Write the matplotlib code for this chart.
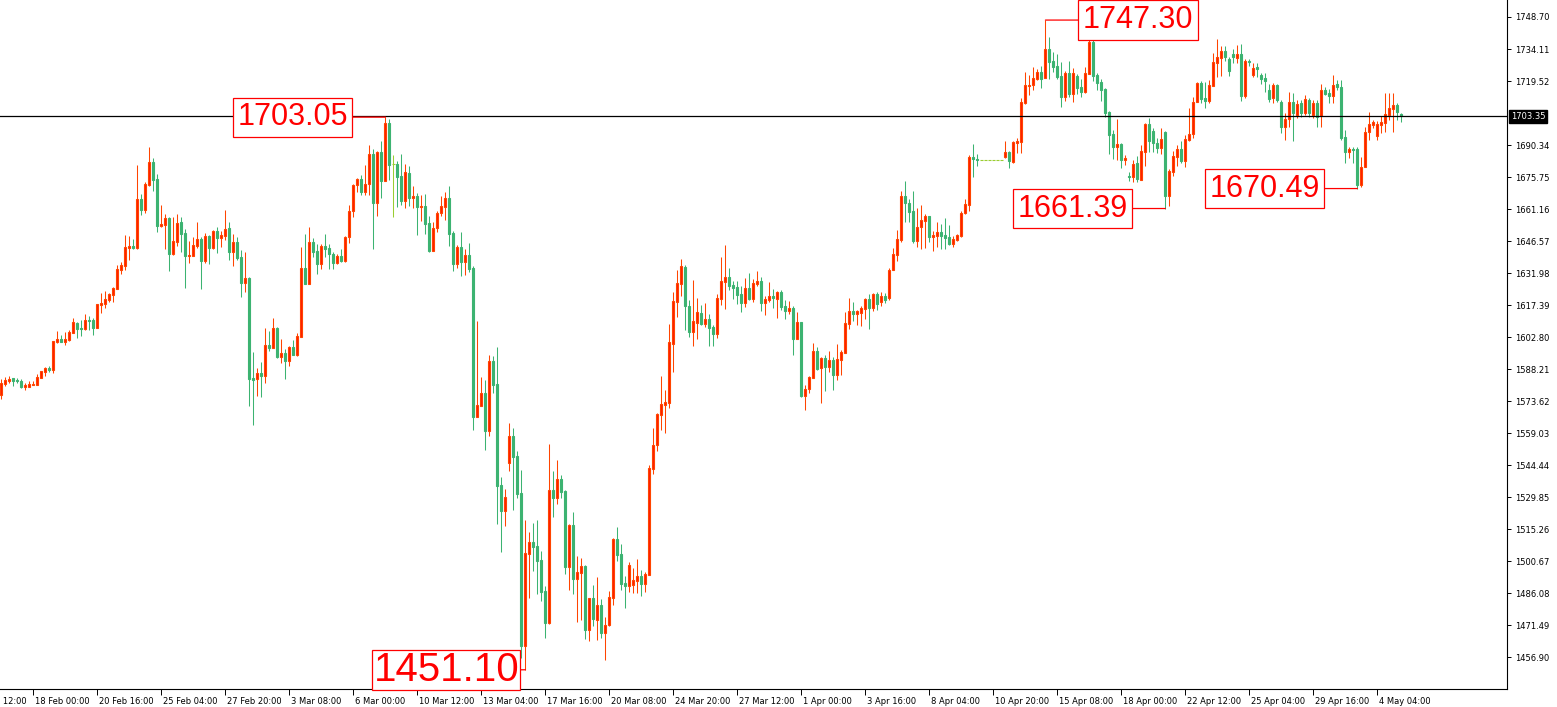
import matplotlib
matplotlib.use("Agg")
import matplotlib.pyplot as plt
import matplotlib.transforms as mtransforms
import numpy as np

# XAUUSD H4 candles (Feb - May 2020)
opens = [
    1576.4, 1581.4, 1582.8, 1584.1, 1583.2, 1582.8, 1580.0, 1580.0, 1580.9, 1580.9,
    1584.1, 1586.9, 1588.7, 1587.8, 1600.5, 1601.9, 1600.5, 1601.4, 1604.6, 1609.2,
    1606.9, 1606.5, 1610.6, 1610.6, 1606.9, 1617.4, 1617.9, 1619.7, 1622.0, 1624.7,
    1633.4, 1635.2, 1643.4, 1644.3, 1643.4, 1665.7, 1660.7, 1672.1, 1682.6, 1674.8,
    1653.4, 1653.9, 1657.1, 1640.6, 1646.1, 1655.2, 1650.2, 1639.7, 1639.7, 1644.3,
    1647.5, 1637.5, 1648.9, 1643.4, 1651.1, 1647.9, 1648.9, 1652.5, 1641.6, 1646.1,
    1639.3, 1627.4, 1629.7, 1584.1, 1583.7, 1586.4, 1585.0, 1599.2, 1597.8, 1606.9,
    1593.7, 1595.5, 1591.9, 1598.3, 1594.6, 1602.8, 1634.3, 1627.0, 1646.1, 1642.0,
    1636.1, 1644.3, 1643.4, 1640.6, 1636.5, 1639.7, 1637.5, 1648.4, 1660.2, 1672.1,
    1674.8, 1668.9, 1672.6, 1686.2, 1663.9, 1687.2, 1673.9, 1700.4, 1681.7, 1681.7,
    1676.2, 1664.8, 1677.6, 1666.2, 1667.1, 1662.1, 1662.5, 1654.8, 1642.0, 1652.5,
    1659.3, 1662.1, 1666.2, 1650.2, 1636.1, 1643.8, 1637.0, 1640.2, 1634.3, 1566.3,
    1571.4, 1577.3, 1560.0, 1591.9, 1581.4, 1535.3, 1523.5, 1545.4, 1557.7, 1548.6,
    1531.7, 1461.9, 1503.9, 1509.4, 1507.5, 1501.1, 1487.0, 1472.4, 1533.1, 1529.4,
    1538.1, 1532.6, 1498.0, 1517.1, 1492.5, 1495.2, 1498.4, 1469.2, 1483.8, 1473.8,
    1480.6, 1467.9, 1471.5, 1483.8, 1510.7, 1503.9, 1490.7, 1489.3, 1489.7, 1491.6,
    1493.9, 1490.2, 1494.3, 1542.6, 1553.6, 1567.3, 1571.8, 1572.7, 1599.6, 1618.8,
    1627.0, 1634.7, 1616.9, 1605.1, 1609.2, 1613.8, 1608.7, 1611.0, 1607.4, 1604.2,
    1620.1, 1627.9, 1630.2, 1626.5, 1625.6, 1622.4, 1618.3, 1625.2, 1620.1, 1627.0,
    1628.3, 1618.3, 1619.7, 1621.5, 1620.1, 1623.3, 1616.9, 1614.7, 1616.0, 1601.9,
    1609.6, 1575.9, 1579.1, 1584.1, 1596.4, 1588.7, 1593.2, 1589.1, 1592.3, 1585.5,
    1592.3, 1595.5, 1608.7, 1614.7, 1613.3, 1613.8, 1615.6, 1620.1, 1616.0, 1622.4,
    1618.8, 1621.5, 1620.6, 1633.4, 1640.2, 1647.0, 1667.1, 1663.9, 1660.2, 1646.6,
    1653.0, 1655.7, 1658.0, 1648.4, 1648.9, 1650.7, 1649.3, 1648.4, 1645.2, 1647.0,
    1648.9, 1659.3, 1663.0, 1684.9, 1684.0, 1683.5, 1683.5, 1683.5, 1683.5, 1683.5,
    1683.5, 1684.9, 1687.2, 1682.6, 1691.3, 1691.7, 1709.5, 1717.2, 1717.7, 1720.4,
    1723.6, 1720.9, 1734.1, 1728.6, 1726.4, 1721.8, 1712.2, 1723.2, 1713.6, 1721.8,
    1716.8, 1714.5, 1722.7, 1737.3, 1722.3, 1719.1, 1715.9, 1705.4, 1695.4, 1689.4,
    1690.8, 1683.5, 1676.2, 1675.8, 1682.1, 1674.4, 1687.2, 1699.9, 1696.7, 1691.3,
    1689.0, 1696.3, 1667.1, 1678.0, 1684.9, 1688.5, 1683.0, 1692.6, 1695.4, 1709.9,
    1718.6, 1711.8, 1710.4, 1717.2, 1727.7, 1730.0, 1733.2, 1729.5, 1731.8, 1730.0,
    1731.8, 1712.7, 1728.6, 1722.3, 1725.9, 1722.3, 1720.9, 1715.4, 1711.8, 1717.7,
    1709.9, 1698.5, 1702.2, 1709.9, 1704.0, 1709.5, 1704.9, 1710.9, 1704.0, 1709.5,
    1703.6, 1715.4, 1714.1, 1712.7, 1718.1, 1716.8, 1694.0, 1687.2, 1688.5, 1688.5,
    1672.1, 1680.3, 1696.3, 1699.5, 1694.4, 1699.5, 1700.4, 1704.0, 1706.8, 1708.6,
    1704.5,
]
highs = [
    1583.7, 1584.6, 1585.0, 1584.1, 1584.1, 1583.7, 1581.8, 1582.8, 1582.8, 1585.9,
    1587.3, 1589.1, 1589.6, 1601.0, 1605.5, 1603.7, 1605.1, 1606.0, 1611.5, 1609.6,
    1610.6, 1613.3, 1612.4, 1611.5, 1617.9, 1622.9, 1623.8, 1622.9, 1625.6, 1635.6,
    1637.0, 1649.3, 1648.9, 1647.5, 1681.2, 1668.0, 1673.5, 1689.4, 1684.4, 1677.1,
    1663.0, 1658.9, 1657.5, 1657.5, 1658.9, 1657.5, 1652.1, 1646.6, 1648.4, 1655.2,
    1648.4, 1650.2, 1649.3, 1651.6, 1653.0, 1651.1, 1660.7, 1655.2, 1649.8, 1648.4,
    1642.5, 1641.6, 1630.2, 1596.0, 1588.7, 1591.4, 1606.9, 1605.5, 1611.5, 1607.4,
    1601.9, 1597.3, 1598.7, 1601.4, 1604.6, 1643.8, 1649.8, 1653.0, 1647.9, 1645.2,
    1645.2, 1649.8, 1645.2, 1641.6, 1640.6, 1642.9, 1648.9, 1663.0, 1672.6, 1675.3,
    1676.7, 1681.2, 1690.3, 1688.5, 1687.6, 1692.2, 1703.05, 1702.0, 1685.8, 1683.0,
    1686.2, 1681.7, 1680.8, 1671.7, 1668.5, 1667.5, 1668.0, 1658.0, 1655.2, 1660.2,
    1667.1, 1668.9, 1671.7, 1651.1, 1644.8, 1650.7, 1642.9, 1645.7, 1635.2, 1610.1,
    1584.6, 1583.2, 1594.6, 1594.2, 1598.3, 1539.0, 1533.5, 1563.6, 1561.3, 1550.8,
    1542.2, 1519.4, 1513.9, 1518.0, 1519.4, 1505.2, 1489.3, 1554.0, 1541.7, 1546.7,
    1539.9, 1533.1, 1517.6, 1523.0, 1503.0, 1502.1, 1498.9, 1483.8, 1489.7, 1493.4,
    1483.4, 1475.2, 1487.0, 1511.2, 1516.2, 1508.4, 1493.9, 1500.2, 1497.5, 1501.6,
    1496.6, 1495.7, 1544.5, 1561.3, 1568.2, 1585.0, 1578.7, 1608.7, 1623.3, 1633.4,
    1638.4, 1635.6, 1619.7, 1628.8, 1620.6, 1617.4, 1618.3, 1613.3, 1608.3, 1622.4,
    1639.3, 1644.8, 1634.3, 1628.3, 1628.3, 1626.1, 1629.7, 1632.0, 1629.2, 1632.9,
    1630.2, 1621.5, 1627.9, 1624.7, 1623.8, 1624.2, 1619.7, 1619.2, 1616.9, 1614.2,
    1609.6, 1580.9, 1585.0, 1600.1, 1598.3, 1593.7, 1594.6, 1596.4, 1593.7, 1599.6,
    1596.9, 1614.2, 1620.6, 1618.8, 1615.1, 1616.9, 1620.6, 1622.4, 1622.9, 1623.3,
    1623.3, 1622.9, 1634.3, 1643.4, 1651.6, 1669.4, 1673.9, 1665.7, 1669.4, 1661.6,
    1663.0, 1658.9, 1658.0, 1651.1, 1655.2, 1654.3, 1657.1, 1653.9, 1648.9, 1649.8,
    1660.2, 1665.7, 1685.8, 1690.8, 1686.2, 1683.5, 1683.5, 1683.5, 1683.5, 1683.5,
    1683.5, 1692.2, 1687.6, 1692.2, 1693.5, 1711.8, 1723.6, 1722.3, 1725.9, 1725.0,
    1726.4, 1747.3, 1739.6, 1732.7, 1731.8, 1728.2, 1724.1, 1728.6, 1725.5, 1722.7,
    1720.4, 1725.9, 1739.1, 1739.1, 1723.2, 1720.4, 1716.3, 1705.8, 1697.2, 1702.2,
    1691.3, 1685.8, 1678.0, 1683.5, 1685.3, 1690.3, 1700.4, 1702.7, 1698.1, 1693.5,
    1698.1, 1696.7, 1679.4, 1687.6, 1690.3, 1692.2, 1694.9, 1707.2, 1712.2, 1719.1,
    1719.5, 1719.1, 1720.0, 1732.3, 1738.7, 1735.5, 1735.5, 1730.5, 1734.1, 1735.9,
    1736.4, 1729.5, 1729.5, 1727.7, 1727.7, 1723.2, 1723.2, 1718.1, 1718.6, 1718.1,
    1710.9, 1704.9, 1714.5, 1714.1, 1710.9, 1710.9, 1713.1, 1711.8, 1710.9, 1710.9,
    1718.1, 1716.8, 1715.9, 1722.3, 1720.0, 1720.0, 1697.2, 1689.4, 1689.4, 1689.4,
    1684.9, 1698.5, 1705.4, 1701.7, 1701.3, 1703.6, 1714.1, 1714.1, 1714.1, 1709.5,
    1704.9,
]
lows = [
    1574.5, 1580.5, 1581.8, 1580.5, 1581.8, 1579.6, 1578.7, 1580.0, 1580.9, 1580.9,
    1584.1, 1585.0, 1586.9, 1586.4, 1600.1, 1600.5, 1599.2, 1601.0, 1604.6, 1602.4,
    1603.3, 1606.0, 1606.0, 1603.7, 1606.9, 1613.8, 1616.0, 1618.8, 1618.8, 1624.7,
    1631.5, 1633.4, 1637.9, 1642.9, 1642.9, 1658.4, 1659.3, 1671.7, 1669.4, 1650.7,
    1653.0, 1642.9, 1632.9, 1640.2, 1644.3, 1641.6, 1625.2, 1636.5, 1639.7, 1643.4,
    1624.7, 1636.5, 1636.1, 1642.9, 1641.1, 1643.8, 1647.0, 1637.9, 1635.2, 1637.9,
    1621.1, 1623.3, 1571.4, 1562.7, 1575.9, 1575.5, 1581.8, 1596.4, 1597.8, 1593.2,
    1591.0, 1583.7, 1589.6, 1594.6, 1594.2, 1602.8, 1627.0, 1627.0, 1639.3, 1631.5,
    1633.8, 1639.3, 1633.8, 1633.8, 1636.1, 1637.0, 1637.0, 1645.7, 1657.5, 1668.9,
    1667.5, 1667.5, 1667.5, 1642.9, 1658.0, 1666.2, 1673.9, 1674.4, 1657.5, 1662.1,
    1663.0, 1661.6, 1662.5, 1661.6, 1649.3, 1655.7, 1649.8, 1641.6, 1642.0, 1650.7,
    1658.0, 1656.2, 1644.3, 1632.9, 1634.3, 1630.6, 1631.1, 1632.4, 1560.4, 1566.3,
    1571.4, 1551.3, 1557.7, 1577.3, 1517.6, 1504.8, 1516.6, 1541.7, 1523.9, 1529.4,
    1456.5, 1451.1, 1483.8, 1496.1, 1485.6, 1482.5, 1465.6, 1472.0, 1520.7, 1526.7,
    1529.4, 1494.8, 1487.5, 1485.6, 1472.9, 1473.8, 1465.1, 1464.2, 1471.1, 1464.7,
    1465.6, 1455.6, 1471.1, 1480.6, 1500.7, 1487.5, 1479.3, 1486.6, 1486.1, 1486.1,
    1484.7, 1486.6, 1494.3, 1540.4, 1550.8, 1560.4, 1559.0, 1570.4, 1586.9, 1611.9,
    1621.5, 1606.0, 1602.8, 1598.7, 1601.9, 1608.3, 1607.4, 1598.7, 1598.7, 1602.4,
    1617.4, 1615.6, 1624.2, 1620.1, 1617.9, 1614.2, 1616.5, 1619.7, 1618.8, 1626.1,
    1614.7, 1612.8, 1618.8, 1616.0, 1611.5, 1615.1, 1611.0, 1613.3, 1594.6, 1601.9,
    1575.5, 1569.5, 1577.3, 1584.1, 1587.8, 1572.7, 1578.2, 1586.9, 1578.7, 1583.2,
    1585.5, 1595.5, 1606.5, 1610.1, 1608.3, 1607.8, 1611.0, 1606.5, 1614.7, 1615.1,
    1616.9, 1618.3, 1619.7, 1633.4, 1637.5, 1646.1, 1655.2, 1655.2, 1645.7, 1643.8,
    1642.9, 1643.4, 1646.1, 1642.0, 1643.8, 1642.9, 1642.9, 1644.8, 1643.8, 1646.6,
    1648.4, 1658.9, 1660.2, 1675.8, 1680.8, 1683.5, 1683.5, 1683.5, 1683.5, 1683.5,
    1683.5, 1684.4, 1679.9, 1682.1, 1686.7, 1686.7, 1709.0, 1713.1, 1715.4, 1720.0,
    1716.3, 1720.9, 1720.4, 1723.6, 1720.4, 1707.7, 1710.4, 1712.2, 1710.0, 1713.6,
    1712.2, 1714.1, 1722.7, 1719.5, 1715.4, 1710.4, 1703.1, 1686.2, 1684.0, 1683.5,
    1679.9, 1681.2, 1673.9, 1673.5, 1673.5, 1674.4, 1680.8, 1687.2, 1687.2, 1686.7,
    1686.2, 1661.39, 1662.5, 1676.2, 1680.8, 1682.1, 1680.3, 1692.2, 1693.5, 1709.9,
    1709.5, 1707.2, 1709.5, 1717.2, 1721.3, 1721.8, 1728.6, 1721.8, 1727.7, 1727.7,
    1710.4, 1711.8, 1726.4, 1721.3, 1721.3, 1718.1, 1714.5, 1709.9, 1709.5, 1709.9,
    1695.8, 1692.6, 1698.5, 1692.2, 1702.6, 1703.1, 1704.0, 1703.1, 1702.6, 1698.5,
    1698.5, 1713.1, 1709.5, 1709.5, 1715.4, 1692.6, 1682.1, 1684.4, 1682.1, 1670.49,
    1671.2, 1680.3, 1692.6, 1698.1, 1692.6, 1695.8, 1696.3, 1701.7, 1696.3, 1701.7,
    1700.8,
]
closes = [
    1581.8, 1583.2, 1583.7, 1582.8, 1582.8, 1580.0, 1580.9, 1581.4, 1581.4, 1584.6,
    1587.3, 1588.7, 1587.8, 1601.0, 1601.9, 1600.5, 1601.9, 1605.1, 1609.6, 1606.5,
    1606.5, 1610.6, 1610.1, 1606.9, 1617.9, 1618.3, 1620.1, 1622.4, 1625.2, 1633.8,
    1635.6, 1643.8, 1644.3, 1643.4, 1665.7, 1660.7, 1672.6, 1682.6, 1674.4, 1653.4,
    1654.3, 1657.1, 1640.6, 1646.6, 1654.8, 1649.8, 1639.7, 1640.2, 1644.8, 1647.5,
    1637.5, 1648.9, 1643.4, 1651.1, 1647.9, 1649.3, 1652.1, 1641.6, 1646.1, 1638.8,
    1627.4, 1629.7, 1583.7, 1583.2, 1586.4, 1585.0, 1599.2, 1597.8, 1606.9, 1593.7,
    1595.5, 1591.9, 1598.3, 1594.6, 1603.3, 1634.3, 1627.0, 1646.1, 1641.6, 1636.1,
    1644.3, 1642.9, 1640.6, 1636.5, 1639.7, 1637.5, 1648.4, 1660.2, 1672.1, 1674.8,
    1668.9, 1672.6, 1686.2, 1663.9, 1687.2, 1673.9, 1700.4, 1681.2, 1681.7, 1675.8,
    1664.8, 1678.0, 1666.2, 1667.1, 1662.1, 1662.5, 1654.3, 1642.0, 1652.5, 1659.3,
    1662.5, 1666.2, 1649.8, 1636.1, 1643.8, 1637.0, 1640.2, 1633.8, 1566.3, 1571.8,
    1577.3, 1560.0, 1591.9, 1580.9, 1534.9, 1523.5, 1529.9, 1557.7, 1548.1, 1531.2,
    1461.9, 1504.3, 1509.4, 1507.1, 1500.7, 1486.6, 1472.4, 1533.1, 1529.4, 1538.1,
    1532.1, 1498.0, 1517.1, 1492.5, 1495.7, 1498.4, 1469.2, 1483.8, 1474.2, 1480.6,
    1467.9, 1471.5, 1484.3, 1510.7, 1503.4, 1490.2, 1489.3, 1498.9, 1492.0, 1493.9,
    1490.2, 1494.8, 1543.1, 1553.6, 1567.7, 1572.3, 1573.2, 1600.5, 1619.2, 1627.4,
    1635.2, 1616.9, 1605.1, 1610.1, 1614.2, 1608.7, 1611.0, 1606.9, 1604.2, 1620.6,
    1628.3, 1630.2, 1626.1, 1625.2, 1622.0, 1618.3, 1625.2, 1620.1, 1627.4, 1628.3,
    1618.3, 1620.1, 1621.5, 1620.6, 1623.3, 1616.5, 1614.7, 1616.0, 1601.9, 1609.6,
    1575.9, 1579.1, 1584.6, 1596.4, 1588.2, 1593.2, 1589.1, 1592.3, 1585.5, 1592.8,
    1596.0, 1609.2, 1614.7, 1613.3, 1614.7, 1616.0, 1620.1, 1616.0, 1622.4, 1617.9,
    1621.5, 1619.7, 1633.4, 1640.6, 1647.5, 1667.1, 1663.9, 1659.8, 1646.6, 1653.0,
    1656.2, 1658.0, 1648.4, 1649.3, 1650.7, 1648.9, 1647.9, 1645.2, 1647.5, 1649.3,
    1659.3, 1663.4, 1684.9, 1684.0, 1683.5, 1683.5, 1683.5, 1683.5, 1683.5, 1683.5,
    1683.5, 1687.2, 1683.0, 1691.7, 1692.2, 1709.9, 1717.7, 1717.7, 1720.9, 1723.6,
    1720.4, 1734.1, 1728.2, 1725.9, 1721.3, 1712.2, 1723.2, 1713.6, 1723.2, 1716.3,
    1714.5, 1723.2, 1737.3, 1721.8, 1718.6, 1715.4, 1704.9, 1694.9, 1689.4, 1690.8,
    1683.5, 1684.4, 1675.8, 1681.7, 1674.8, 1687.6, 1699.9, 1692.2, 1691.3, 1689.0,
    1693.1, 1667.1, 1678.5, 1685.3, 1688.5, 1683.0, 1693.1, 1695.4, 1709.9, 1718.6,
    1711.3, 1710.4, 1717.7, 1728.2, 1730.5, 1733.2, 1730.5, 1724.1, 1730.5, 1731.8,
    1712.7, 1728.6, 1728.2, 1725.5, 1725.0, 1720.4, 1719.5, 1711.3, 1717.7, 1710.9,
    1698.5, 1702.2, 1709.9, 1704.9, 1709.0, 1704.9, 1711.3, 1704.9, 1709.5, 1703.1,
    1715.4, 1713.6, 1712.7, 1717.7, 1716.8, 1693.5, 1687.2, 1688.5, 1688.1, 1672.1,
    1680.3, 1696.3, 1699.9, 1700.8, 1699.9, 1700.8, 1704.5, 1707.2, 1708.6, 1705.4,
    1703.35,
]

time_labels = [
    "13 Feb 12:00", "18 Feb 00:00", "20 Feb 16:00", "25 Feb 04:00", "27 Feb 20:00",
    "3 Mar 08:00", "6 Mar 00:00", "10 Mar 12:00", "13 Mar 04:00", "17 Mar 16:00",
    "20 Mar 08:00", "24 Mar 20:00", "27 Mar 12:00", "1 Apr 00:00", "3 Apr 16:00",
    "8 Apr 04:00", "10 Apr 20:00", "15 Apr 08:00", "18 Apr 00:00", "22 Apr 12:00",
    "25 Apr 04:00", "29 Apr 16:00", "4 May 04:00",
]
time_label_bars = [-8, 8, 24, 40, 56, 72, 88, 104, 120, 136, 152, 168, 184, 200,
                   216, 232, 248, 264, 280, 296, 312, 328, 344]

price_ticks = [1748.70, 1734.11, 1719.52, 1690.34, 1675.75, 1661.16, 1646.57,
               1631.98, 1617.39, 1602.80, 1588.21, 1573.62, 1559.03, 1544.44,
               1529.85, 1515.26, 1500.67, 1486.08, 1471.49, 1456.90]
last_price = 1703.35

swing_bars = [96, 131, 261, 291, 339]
swing_kinds = ["high", "low", "high", "low", "low"]
swing_sides = ["left", "left", "right", "left", "left"]

UP_FILL = "#ff1a00"
UP_EDGE = "#ff4500"
DOWN = "#3cb371"
DOJI = "#9acd32"

o = np.array(opens)
h = np.array(highs)
l = np.array(lows)
c = np.array(closes)
x = np.arange(len(o))

W, H = 1557, 707
fig = plt.figure(figsize=(W / 100, H / 100), dpi=100)
ax = fig.add_axes([0, 18 / H, 1507 / W, 689 / H])
ax.set_xlim(-0.375, 376.4)
ax.set_ylim(1442.34, 1756.45)

up = c > o
down = c < o
flat = c == o
wick_col = np.where(up, UP_EDGE, np.where(down, DOWN, DOJI))
ax.vlines(x, l, h, colors=wick_col, lw=0.75, zorder=2)
ax.bar(x[up], (c - o)[up], bottom=o[up], width=0.5, color=UP_FILL,
       edgecolor=UP_EDGE, lw=0.8, zorder=3)
ax.bar(x[down], (o - c)[down], bottom=c[down], width=0.5, color=DOWN,
       edgecolor=DOWN, lw=0.8, zorder=3)
ax.hlines(c[flat], x[flat] - 0.375, x[flat] + 0.375, colors=DOJI, lw=0.8, zorder=3)

ax.axhline(last_price, color="black", lw=0.9, zorder=4)

# axes frame
for s in ("top", "left"):
    ax.spines[s].set_visible(False)
for s in ("right", "bottom"):
    ax.spines[s].set_linewidth(0.8)

ax.yaxis.tick_right()
ax.set_yticks(price_ticks)
ax.set_yticklabels([f"{v:.2f}" for v in price_ticks])
ax.tick_params(axis="y", length=3, width=0.7, labelsize=6, pad=3)

ax.set_xticks(time_label_bars[1:])
ax.set_xticklabels([])
ax.tick_params(axis="x", length=4.3, width=0.7)
tr = mtransforms.blended_transform_factory(ax.transData, fig.transFigure)
off = mtransforms.ScaledTranslation(2 / 100, 0, fig.dpi_scale_trans)
for k, lab in zip(time_label_bars, time_labels):
    fig.text(k, 1.5 / H, lab, transform=tr + off, ha="left", va="bottom",
             fontsize=6, family="DejaVu Sans")

# current price tag on the price scale
tr_y = mtransforms.blended_transform_factory(ax.transAxes, ax.transData)
ax.text(1.0 + 4 / 1507, last_price, f"{last_price:.2f}", transform=tr_y,
        ha="left", va="center", fontsize=6, color="white", clip_on=False,
        bbox=dict(boxstyle="square,pad=0.2", fc="black", ec="black"))

# swing labels
for k, kind, side in zip(swing_bars, swing_kinds, swing_sides):
    val = h[k] if kind == "high" else l[k]
    big = k == 131
    gap = 5 if big else 33
    size = 29 if big else 22
    pad = 0.03 if big else 0.15
    sign = -1 if side == "left" else 1
    ax.annotate(f"{val:.2f}", xy=(k, val),
                xytext=(sign * (gap + pad * size * 100 / 72), 0),
                textcoords="offset pixels", ha="right" if side == "left" else "left",
                va="center", fontsize=size, color="#ff0000", family="Liberation Sans",
                bbox=dict(boxstyle=f"square,pad={pad}", fc="white", ec="#ff0000", lw=0.9),
                arrowprops=dict(arrowstyle="-", color="#ff0000", lw=0.9,
                                shrinkA=0, shrinkB=0),
                annotation_clip=False, zorder=6)

fig.savefig("out.png", dpi=100)
